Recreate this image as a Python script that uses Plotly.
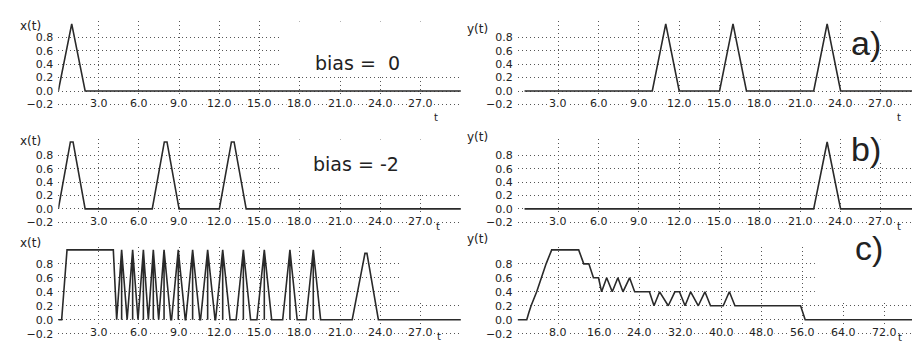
import plotly.graph_objects as go

W, H = 912, 352

# ---------------- data ----------------
# a) bias = 0
t_x_a = [0, 1, 2, 30]
x_a = [0, 1, 0, 0]
t_y_a = [0.5, 10, 11, 12, 15, 16, 17, 22, 23, 24, 30]
y_a = [0, 0, 1, 0, 0, 1, 0, 0, 1, 0, 0]

# b) bias = -2
t_x_b = [0, 0.9, 1.1, 2, 7, 7.9, 8.1, 9, 12, 12.9, 13.1, 14, 30]
x_b = [0, 1, 1, 0, 0, 1, 1, 0, 0, 1, 1, 0, 0]
t_y_b = [0.5, 22, 23, 24, 30]
y_b = [0, 0, 1, 0, 0]

# c)
t_x_c = [0, 0.25, 0.65, 4.1, 4.35,
         4.72, 4.72, 4.72, 5.13,
         5.54, 5.54, 5.54, 5.94,
         6.34, 6.34, 6.34, 6.71,
         7.08, 7.08, 7.08, 7.48,
         7.88, 7.88, 7.88, 8.38, 8.44,
         8.94, 8.94, 8.94, 9.46, 9.50,
         10.01, 10.01, 10.01, 10.55, 10.60,
         11.13, 11.13, 11.13, 11.68, 11.72,
         12.25, 12.25, 12.25, 12.80, 13.25,
         13.79, 13.79, 13.79, 14.33, 14.80,
         15.35, 15.35, 15.35, 15.90, 16.72,
         17.26, 17.26, 17.26, 17.80, 18.46,
         19.00, 19.00, 19.00, 19.55, 21.90,
         22.85, 23.00, 23.85, 30]
x_c = [0, 0, 1, 1, 0,
       1, 0, 1, 0,
       1, 0, 1, 0,
       1, 0, 1, 0,
       1, 0, 1, 0,
       1, 0, 1, 0, 0,
       1, 0, 1, 0, 0,
       1, 0, 1, 0, 0,
       1, 0, 1, 0, 0,
       1, 0, 1, 0, 0,
       1, 0, 1, 0, 0,
       1, 0, 1, 0, 0,
       1, 0, 1, 0, 0,
       1, 0, 1, 0, 0,
       0.95, 0.95, 0, 0]
t_y_c = [0, 1.8, 2.2, 2.65, 3.75, 4.6, 5.6, 6.7, 12.0, 13.0, 14.0, 14.9, 15.9,
         16.5, 17.5, 18.6, 19.7, 20.7, 22.0, 23.0, 25.9, 26.8, 27.9, 29.6, 30.9,
         31.8, 32.9, 34.0, 35.5, 36.8, 37.9, 40.4, 41.6, 42.7, 55.6, 56.5, 80]
y_c = [0, 0, 0.1, 0.2, 0.4, 0.6, 0.8, 1.0, 1.0, 0.8, 0.8, 0.6, 0.6,
       0.4, 0.6, 0.4, 0.6, 0.4, 0.6, 0.4, 0.4, 0.2, 0.4, 0.2, 0.4,
       0.4, 0.2, 0.4, 0.2, 0.4, 0.2, 0.2, 0.4, 0.2, 0.2, 0, 0]

x_ticks_short = [3, 6, 9, 12, 15, 18, 21, 24, 27]
x_text_short = ["3.0", "6.0", "9.0", "12.0", "15.0", "18.0", "21.0", "24.0", "27.0"]
x_ticks_long = [8, 16, 24, 32, 40, 48, 56, 64, 72]
x_text_long = ["8.0", "16.0", "24.0", "32.0", "40.0", "48.0", "56.0", "64.0", "72.0"]
y_ticks = [-0.2, 0.0, 0.2, 0.4, 0.6, 0.8]
y_text = ["\u22120.2", "0.0", "0.2", "0.4", "0.6", "0.8"]

panel_labels = ["x(t)", "y(t)", "x(t)", "y(t)", "x(t)", "y(t)"]
notes = ["bias =  0", "a)", "bias = -2", "b)", "", "c)"]

# ---------------- layout geometry ----------------
YR = [-0.26, 1.04]
rows = [(91.8, 67.7), (210.7, 67.5), (322.5, 70.5)]   # (pixel of y=0, px per unit)
cols_short = [(58.3, 13.42, 30.0), (517.8, 13.45, (912 - 517.8) / 13.45)]
col_long = (517.6, 5.09, (912 - 517.6) / 5.09)

series = [(t_x_a, x_a), (t_y_a, y_a), (t_x_b, x_b), (t_y_b, y_b), (t_x_c, x_c), (t_y_c, y_c)]

fig = go.Figure()
layout = dict(width=W, height=H, margin=dict(l=0, r=0, t=0, b=0),
              paper_bgcolor="white", plot_bgcolor="white", showlegend=False)
annotations = []
shapes = []

FONT = "DejaVu Sans"
GRID = "#555555"
LINE = "#2a2a2a"

masks = [(16.5, 0.22), (24.3, 0.70), (16.5, 0.22), (24.3, 0.70), (25.5, 0.25), (58.4, 0.27)]
label_x = [18, 477, 18, 477, 18, 477]
label_y = [17, 20, 142, 138, 254, 250]
t_pos = [(436, 119), (903, 119), (438, 236), (903, 236), (439, 347), (904, 348)]
note_pos = [(357, 50, 19), (883, 22, 34), (356, 165, 19), (883, 150, 34), (0, 0, 0), (885, 271, 34)]

for i in range(6):
    r, c = divmod(i, 2)
    y0, ys = rows[r]
    if i == 5:
        x0, xs, xmax = col_long
        tv, tt = x_ticks_long, x_text_long
    else:
        x0, xs, xmax = cols_short[c]
        tv, tt = x_ticks_short, x_text_short
    xd = [x0 / W, min(1.0, (x0 + xmax * xs) / W)]
    bottom = y0 - YR[0] * ys
    top = y0 - YR[1] * ys
    yd = [1 - bottom / H, 1 - top / H]
    sfx = "" if i == 0 else str(i + 1)
    xa, ya = "x" + sfx, "y" + sfx
    layout["xaxis" + sfx] = dict(domain=xd, range=[0, xmax], anchor=ya, tickvals=tv,
                                 showticklabels=False, showgrid=True, gridcolor=GRID,
                                 griddash="1px,3px", gridwidth=1, zeroline=False,
                                 showline=False, ticks="", fixedrange=True)
    layout["yaxis" + sfx] = dict(domain=yd, range=YR, anchor=xa, tickvals=y_ticks,
                                 ticktext=y_text, showgrid=True, gridcolor=GRID,
                                 griddash="1px,3px", gridwidth=1, zeroline=False,
                                 showline=False, ticks="", ticklabelstandoff=4,
                                 tickfont=dict(family=FONT, size=11, color="#222"),
                                 fixedrange=True)
    ts, vs = series[i]
    fig.add_trace(go.Scatter(x=ts, y=vs, mode="lines", xaxis=xa, yaxis=ya,
                             line=dict(color=LINE, width=1.6), hoverinfo="skip"))
    # white box behind the note (covers grid, not data)
    mx, my = masks[i]
    shapes.append(dict(type="rect", xref=xa, yref=ya, x0=mx, x1=xmax, y0=my, y1=YR[1],
                       fillcolor="white", line=dict(width=0), layer="between"))
    # x tick labels sitting on the -0.2 row
    for v, s in zip(tv, tt):
        annotations.append(dict(x=v, y=-0.2, xref=xa, yref=ya, text=s, showarrow=False,
                                bgcolor="white", borderpad=0, yshift=1,
                                font=dict(family=FONT, size=11, color="#222")))
    # axis names
    annotations.append(dict(x=label_x[i] / W, y=1 - label_y[i] / H, xref="paper", yref="paper",
                            text=panel_labels[i], showarrow=False,
                            font=dict(family=FONT, size=12, color="#222")))
    tx, ty = t_pos[i]
    annotations.append(dict(x=tx / W, y=1 - ty / H, xref="paper", yref="paper", text="t",
                            showarrow=False, font=dict(family=FONT, size=10, color="#222")))
    if notes[i]:
        nx, ny, nsz = note_pos[i]
        fam = FONT if nsz < 25 else "Liberation Sans"
        annotations.append(dict(x=nx / W, y=1 - ny / H, xref="paper", yref="paper",
                                text=notes[i].replace("  ", "&nbsp; "), showarrow=False,
                                font=dict(family=fam, size=nsz, color="#222")))

layout["annotations"] = annotations
layout["shapes"] = shapes
fig.update_layout(**layout)
fig.write_html("out.html", config={"displayModeBar": False},
               post_script="document.body.style.margin='0px';")
